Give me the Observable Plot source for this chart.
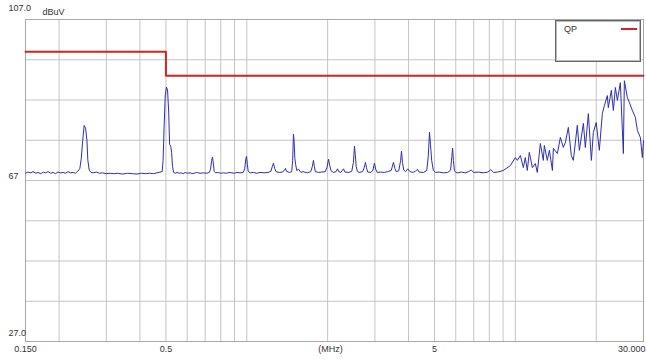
<!DOCTYPE html>
<html>
<head>
<meta charset="utf-8">
<script src="https://cdn.jsdelivr.net/npm/d3@7"></script>
<script src="https://cdn.jsdelivr.net/npm/@observablehq/plot@0.6"></script>
<style>
  html, body { margin: 0; padding: 0; background: #fff; }
  #wrap { position: relative; width: 646px; height: 360px; }
  #legend { position: absolute; left: 555px; top: 20px; width: 84px; height: 40px;
    border: 1px solid #666; box-shadow: inset 0 0 0 1px #bbb; background: #fff;
    font: 9px "Liberation Sans", Arial, sans-serif; color: #333; }
  #legend .lab { position: absolute; left: 8px; top: 3px; }
  #legend .sw { position: absolute; left: 65px; top: 7px; width: 16px; height: 2px; background: #d42222; }
</style>
</head>
<body>
<div id="wrap"></div>
<script>
// ---- data ----
const seriesName = "QP";
const yUnit = "dBuV";
const xUnit = "(MHz)";

const limitFreq = [0.15, 0.5, 30];
const limitLevel = [99, 93, 93];

const xTickValues = [0.15, 0.5, 5, 30];
const xTickLabels = ["0.150", "0.5", "5", "30.000"];
const yTickValues = [107, 67, 27];
const yTickLabels = ["107.0", "67", "27.0"];

const xGridValues = [0.2, 0.3, 0.4, 0.5, 0.6, 0.7, 0.8, 0.9, 1, 2, 3, 4, 5, 6, 7, 8, 9, 10, 20];
const yGridValues = [37, 47, 57, 67, 77, 87, 97];

const traceFreq = [
  0.150, 0.153, 0.157, 0.160, 0.164, 0.167, 0.171, 0.175, 0.178, 0.182, 0.186, 0.190, 0.194, 0.198,
  0.203, 0.207, 0.211, 0.216, 0.221, 0.226, 0.230, 0.235,
  0.239, 0.242, 0.245, 0.248, 0.251, 0.254, 0.256, 0.259, 0.263,
  0.268, 0.275, 0.283, 0.290, 0.300, 0.310, 0.320, 0.330, 0.345, 0.360, 0.375, 0.390, 0.405, 0.420,
  0.435, 0.450, 0.462,
  0.484, 0.488, 0.492, 0.497, 0.502, 0.507, 0.512, 0.516, 0.521, 0.525, 0.529, 0.534,
  0.542, 0.550, 0.560, 0.570, 0.580, 0.590, 0.600,
  0.615, 0.630, 0.650, 0.670, 0.690, 0.710, 0.725, 0.733, 0.740, 0.745, 0.750, 0.756,
  0.765, 0.780, 0.800, 0.820, 0.840, 0.860,
  0.880, 0.900, 0.920, 0.945, 0.970, 0.983, 0.992, 0.998, 1.005, 1.012,
  1.030, 1.060, 1.090, 1.120,
  1.160, 1.200, 1.230, 1.245, 1.257, 1.270, 1.285, 1.320,
  1.360, 1.385, 1.394, 1.405,
  1.440, 1.470, 1.482, 1.492, 1.500, 1.510, 1.520, 1.535, 1.560, 1.590, 1.620,
  1.680, 1.730, 1.755, 1.771, 1.785, 1.800, 1.850, 1.900,
  1.960, 1.990, 2.015, 2.035, 2.060, 2.100,
  2.150, 2.177, 2.200, 2.240, 2.291, 2.320,
  2.400, 2.460, 2.495, 2.518, 2.535, 2.555, 2.580, 2.620,
  2.700, 2.740, 2.767, 2.790, 2.820,
  2.900, 2.950, 2.988, 3.020, 3.060, 3.150,
  3.250, 3.350, 3.450, 3.517, 3.560, 3.600,
  3.680, 3.740, 3.767, 3.800, 3.840,
  3.900, 3.980, 4.050, 4.150, 4.250, 4.321, 4.380,
  4.550, 4.680, 4.740, 4.790, 4.830, 4.880, 4.950,
  5.050, 5.200, 5.400, 5.600, 5.740, 5.800, 5.840, 5.880, 5.930, 6.000,
  6.100, 6.300, 6.500, 6.700, 6.850, 7.000, 7.300, 7.600, 7.900, 8.100, 8.300, 8.600,
  9.02, 9.58, 10.00, 10.17, 10.44, 10.71, 10.89, 11.08, 11.27, 11.57, 11.87, 12.07,
  12.39, 12.71, 12.82, 13.15, 13.39, 13.74, 13.85, 14.34, 14.71, 15.09, 15.35, 15.75,
  16.16, 16.44, 17.01, 17.31, 17.92, 18.22, 18.70, 19.19, 19.51, 20.00, 20.54, 21.08,
  21.45, 22.00, 22.19, 22.77, 23.17, 23.57, 23.98, 24.60, 25.24, 25.46, 26.12, 26.58,
  27.27, 27.98, 28.47, 29.20, 29.71, 30.00
];
const traceLevel = [
  68.8, 69.1, 68.9, 69.2, 68.8, 69.0, 68.7, 69.1, 68.9, 69.2, 68.8, 69.0, 68.7, 69.1,
  68.9, 69.0, 68.8, 69.2, 68.9, 69.0, 68.8, 69.3,
  70.0, 72.5, 77.0, 80.7, 80.0, 77.0, 72.0, 69.6, 69.0,
  68.9, 69.1, 68.8, 68.9, 68.7, 68.8, 68.7, 68.8, 68.6, 68.8, 68.7, 68.6, 68.8, 68.7,
  68.8, 68.7, 68.9,
  69.2, 72.0, 80.0, 88.0, 90.2, 89.5, 84.0, 76.0, 75.5, 74.0, 70.5, 69.0,
  68.8, 69.0, 68.8, 68.9, 68.7, 69.0, 68.8,
  68.9, 68.7, 69.0, 68.8, 68.9, 68.8, 69.0, 69.8, 72.0, 72.8, 71.5, 69.3,
  68.9, 69.0, 68.8, 68.9, 68.8, 69.0,
  68.9, 68.8, 69.0, 68.9, 69.0, 70.0, 72.5, 73.0, 71.0, 69.3,
  68.9, 69.0, 68.8, 69.0,
  68.9, 69.0, 69.3, 70.5, 71.3, 70.0, 69.2, 69.0,
  69.1, 69.7, 70.0, 69.3,
  69.0, 69.2, 72.0, 78.5, 77.0, 72.5, 71.0, 69.5, 69.8, 69.0, 69.2,
  68.9, 69.2, 70.5, 72.0, 70.5, 69.2, 69.0, 69.1,
  69.2, 70.3, 72.3, 70.8, 69.4, 69.0,
  69.2, 69.9, 69.2, 69.0, 69.9, 69.1,
  69.0, 69.3, 71.5, 75.5, 73.5, 70.5, 69.3, 69.0,
  69.2, 70.3, 71.5, 70.2, 69.1,
  69.0, 69.6, 71.3, 69.8, 69.0, 69.1,
  69.0, 69.2, 69.5, 71.5, 70.0, 69.2,
  69.4, 72.0, 74.3, 71.5, 69.6,
  69.2, 69.9, 69.2, 69.0, 69.3, 69.8, 69.1,
  69.0, 69.5, 73.0, 79.0, 76.0, 72.0, 69.5,
  69.0, 69.1, 68.9, 69.0, 69.6, 73.0, 75.0, 72.0, 69.5, 69.0,
  68.9, 69.1, 68.9, 69.2, 69.6, 69.0, 69.1, 68.9, 69.1, 69.7, 69.0, 69.1,
  69.5, 70.7, 72.7, 72.0, 73.2, 70.2, 72.7, 69.5, 74.0, 70.2, 71.2, 69.0,
  76.2, 72.0, 75.7, 72.0, 74.5, 69.5, 75.0, 73.7, 77.7, 75.2, 76.4, 80.2,
  73.2, 72.0, 80.7, 74.5, 81.2, 75.2, 83.6, 72.0, 78.9, 81.4, 74.5, 83.6,
  85.6, 88.1, 85.1, 89.4, 84.4, 90.1, 86.9, 91.3, 73.7, 91.8, 87.6, 86.4,
  84.4, 82.7, 79.4, 77.7, 72.7, 76.9
];

// ---- tables built from the arrays ----
const trace = traceFreq.map((f, i) => ({f, v: traceLevel[i]}));
const limit = limitFreq.map((f, i) => ({f, v: limitLevel[i]}));
const xTicks = xTickValues.map((f, i) => ({f, label: xTickLabels[i]}));
const yTicks = yTickValues.map((v, i) => ({v, label: yTickLabels[i]}));

const font = "Liberation Sans, Arial, sans-serif";
const txt = "#333";

const chart = Plot.plot({
  width: 646,
  height: 360,
  marginLeft: 25,
  marginRight: 3,
  marginTop: 19,
  marginBottom: 19,
  style: {fontFamily: font, fontSize: "9px", background: "#fff"},
  x: {type: "log", domain: [0.15, 30], axis: null},
  y: {domain: [27, 107], axis: null},
  marks: [
    Plot.gridX(xGridValues, {stroke: "#c4c4c4", strokeOpacity: 1}),
    Plot.gridY(yGridValues, {stroke: "#c4c4c4", strokeOpacity: 1}),
    Plot.frame({stroke: "#a8a8a8"}),
    Plot.line(trace, {x: "f", y: "v", stroke: "#2e2eb0", strokeWidth: 1}),
    Plot.line(limit, {x: "f", y: "v", stroke: "#d42222", strokeWidth: 2, curve: "step-after"}),
    // y labels
    Plot.text(yTicks.filter(d => d.v === 107), {y: "v", text: "label", frameAnchor: "left", textAnchor: "start", dx: -17, dy: -11, fill: txt}),
    Plot.text(yTicks.filter(d => d.v === 67), {y: "v", text: "label", frameAnchor: "left", textAnchor: "start", dx: -17, dy: -4, fill: txt}),
    Plot.text(yTicks.filter(d => d.v === 27), {y: "v", text: "label", frameAnchor: "left", textAnchor: "start", dx: -17, dy: -8, fill: txt}),
    Plot.text([yUnit], {frameAnchor: "top-left", textAnchor: "start", dx: 17, dy: -11, fill: txt}),
    // x labels
    Plot.text(xTicks.filter(d => d.f !== 30), {x: "f", text: "label", frameAnchor: "bottom", dy: 10, fill: txt}),
    Plot.text(xTicks.filter(d => d.f === 30), {x: "f", text: "label", frameAnchor: "bottom", textAnchor: "end", dx: 2, dy: 10, fill: txt}),
    Plot.text([xUnit], {frameAnchor: "bottom", dx: -4, dy: 10, fill: txt})
  ]
});

const wrap = document.getElementById("wrap");
wrap.appendChild(chart);
const legend = document.createElement("div");
legend.id = "legend";
legend.innerHTML = `<span class="lab">${seriesName}</span><span class="sw"></span>`;
wrap.appendChild(legend);
</script>
</body>
</html>
